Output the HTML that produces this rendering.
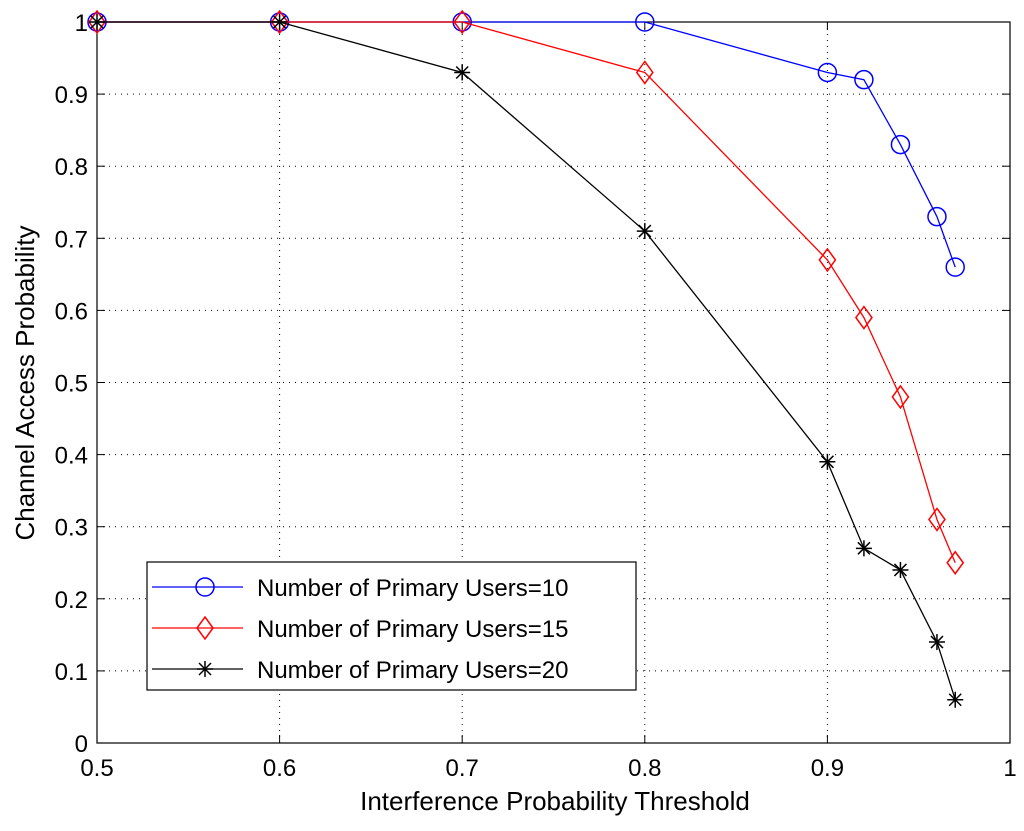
<!DOCTYPE html>
<html><head><meta charset="utf-8"><style>
body{margin:0;background:#fff}
svg text{font-family:"Liberation Sans",Arial,sans-serif;fill:#000}
</style></head><body>
<svg id="chart" width="1024" height="826" xmlns="http://www.w3.org/2000/svg">
<rect width="1024" height="826" fill="#fff"/>
<g id="grid"></g>
<g id="axes"></g>
<g id="series"></g>
<g id="legend"></g>
<text x="555" y="810" font-size="26" text-anchor="middle">Interference Probability Threshold</text>
<text transform="translate(34,383) rotate(-90)" font-size="26" text-anchor="middle">Channel Access Probability</text>
</svg>
<script>
const xValues=[0.5,0.6,0.7,0.8,0.9,0.92,0.94,0.96,0.97];
const users10=[1,1,1,1,0.93,0.92,0.83,0.73,0.66];
const users15=[1,1,1,0.93,0.67,0.59,0.48,0.31,0.25];
const users20=[1,1,0.93,0.71,0.39,0.27,0.24,0.14,0.06];
const xTicks=[0.5,0.6,0.7,0.8,0.9,1];
const xTickLabels=["0.5","0.6","0.7","0.8","0.9","1"];
const yTicks=[0,0.1,0.2,0.3,0.4,0.5,0.6,0.7,0.8,0.9,1];
const yTickLabels=["0","0.1","0.2","0.3","0.4","0.5","0.6","0.7","0.8","0.9","1"];
const legendLabels=["Number of Primary Users=10","Number of Primary Users=15","Number of Primary Users=20"];

const L=97,R=1010,T=22,B=743;
const sx=v=>L+(v-0.5)/0.5*(R-L);
const sy=v=>B-v*(B-T);
const NS="http://www.w3.org/2000/svg";
function mk(tag,attrs,parent){const e=document.createElementNS(NS,tag);for(const k in attrs)e.setAttribute(k,attrs[k]);parent.appendChild(e);return e;}
const grid=document.getElementById('grid'),axes=document.getElementById('axes'),ser=document.getElementById('series'),leg=document.getElementById('legend');

xTicks.forEach((t,i)=>{const x=sx(t);
 if(i>0&&i<xTicks.length-1){const g=mk('line',{x1:x,x2:x,y1:T,y2:B,stroke:'#000','stroke-width':1,'stroke-dasharray':'1,5'},grid);
 
 }
 mk('line',{x1:x,x2:x,y1:B,y2:B-8,stroke:'#000'},axes);
 mk('line',{x1:x,x2:x,y1:T,y2:T+8,stroke:'#000'},axes);
 const tx=mk('text',{x:x,y:B+33,'font-size':24,'text-anchor':'middle'},axes);tx.textContent=xTickLabels[i];
 
 
});
yTicks.forEach((t,i)=>{const y=sy(t);
 if(i>0&&i<yTicks.length-1){const g=mk('line',{x1:L,x2:R,y1:y,y2:y,stroke:'#000','stroke-width':1,'stroke-dasharray':'1,5'},grid);
 
 }
 mk('line',{x1:L,x2:L+8,y1:y,y2:y,stroke:'#000'},axes);
 mk('line',{x1:R,x2:R-8,y1:y,y2:y,stroke:'#000'},axes);
 const tx=mk('text',{x:L-9,y:y+9,'font-size':24,'text-anchor':'end'},axes);tx.textContent=yTickLabels[i];
 
 
});
const frame=mk('rect',{x:L,y:T,width:R-L,height:B-T,fill:'none',stroke:'#000','stroke-width':1.2},axes);



function marker(kind,x,y,color,parent){
 if(kind==='o')return mk('circle',{cx:x,cy:y,r:9,fill:'none',stroke:color,'stroke-width':1.5},parent);
 if(kind==='d')return mk('polygon',{points:`${x},${y-11} ${x+8},${y} ${x},${y+11} ${x-8},${y}`,fill:'none',stroke:color,'stroke-width':1.5},parent);
 const g=mk('g',{stroke:color,'stroke-width':1.5},parent);
 mk('line',{x1:x-8,x2:x+8,y1:y,y2:y},g);mk('line',{x1:x,x2:x,y1:y-8,y2:y+8},g);
 mk('line',{x1:x-6,x2:x+6,y1:y-6,y2:y+6},g);mk('line',{x1:x-6,x2:x+6,y1:y+6,y2:y-6},g);return g;
}
const seriesList=[[users10,'#0000ff','o','series-users-10'],[users15,'#ff0000','d','series-users-15'],[users20,'#000','*','series-users-20']];
seriesList.forEach(([vals,c,k,name])=>{
 const g=mk('g',{},ser);
 
 
 mk('polyline',{points:vals.map((v,i)=>sx(xValues[i])+','+sy(v)).join(' '),fill:'none',stroke:c,'stroke-width':1.3},g);
 vals.forEach((v,i)=>{const m=marker(k,sx(xValues[i]),sy(v),c,g);
  
  });
});
const lb=mk('rect',{x:147,y:562,width:489,height:128,fill:'#fff',stroke:'#000','stroke-width':1.2},leg);


seriesList.forEach(([v,c,k],i)=>{const y=587+i*41;
 const g=mk('g',{},leg);
 
 
 mk('line',{x1:152,x2:243,y1:y,y2:y,stroke:c,'stroke-width':1.3},g);
 marker(k,205,y,c,g);
 const t=mk('text',{x:257,y:y+9,'font-size':24},g);t.textContent=legendLabels[i];
});
</script>
</body></html>
